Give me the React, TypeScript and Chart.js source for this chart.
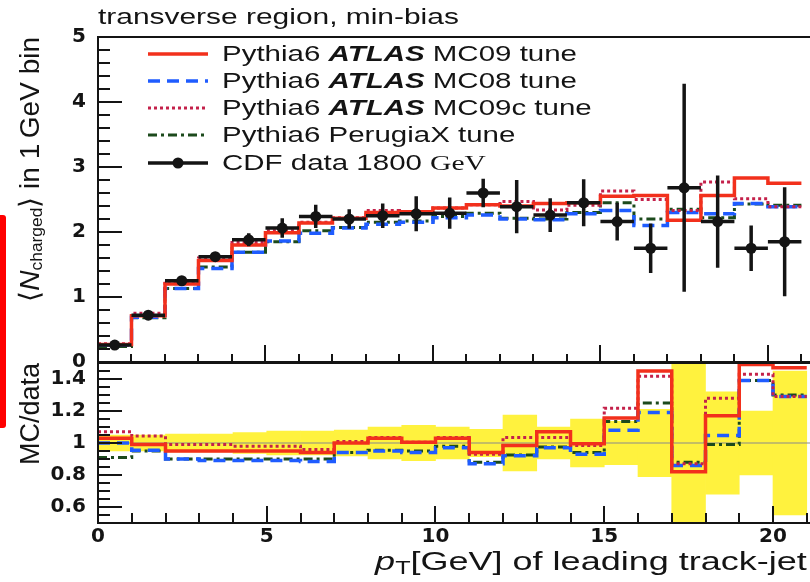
import React, { useEffect, useRef } from "react";
import { Chart, registerables } from "chart.js";

Chart.register(...registerables);

// ---------------- data ----------------
const BIN_LOW = [0, 1, 2, 3, 4, 5, 6, 7, 8, 9, 10, 11, 12, 13, 14, 15, 16, 17, 18, 19, 20];
const BIN_WIDTH = 1;

const CDF_DATA = [0.26, 0.72, 1.25, 1.62, 1.88, 2.06, 2.24, 2.2, 2.25, 2.28, 2.29, 2.6, 2.39, 2.26, 2.45, 2.16, 1.75, 2.68, 2.16, 1.75, 1.85];
const CDF_ERR = [0.03, 0.04, 0.05, 0.07, 0.1, 0.15, 0.18, 0.15, 0.19, 0.27, 0.24, 0.22, 0.41, 0.26, 0.36, 0.29, 0.38, 1.6, 0.71, 0.35, 0.84];

const MC09 = [0.27, 0.71, 1.2, 1.56, 1.8, 1.99, 2.14, 2.21, 2.3, 2.31, 2.37, 2.42, 2.4, 2.44, 2.45, 2.55, 2.56, 2.18, 2.56, 2.83, 2.75];
const MC08 = [0.26, 0.69, 1.13, 1.44, 1.69, 1.86, 1.98, 2.06, 2.12, 2.15, 2.22, 2.26, 2.2, 2.19, 2.28, 2.33, 2.1, 2.3, 2.28, 2.44, 2.39];
const MC09C = [0.28, 0.75, 1.24, 1.6, 1.84, 2.02, 2.15, 2.22, 2.33, 2.29, 2.37, 2.42, 2.47, 2.34, 2.41, 2.63, 2.5, 2.33, 2.77, 2.51, 2.39];
const PERUGIAX = [0.24, 0.68, 1.13, 1.46, 1.69, 1.85, 2.02, 2.07, 2.15, 2.17, 2.24, 2.29, 2.21, 2.2, 2.3, 2.45, 2.2, 2.35, 2.22, 2.43, 2.41];

const RATIO_MC09 = [1.03, 0.99, 0.95, 0.95, 0.95, 0.95, 0.94, 1.0, 1.03, 1.005, 1.03, 0.94, 0.985, 1.07, 0.995, 1.156, 1.45, 0.82, 1.17, 1.49, 1.47];
const RATIO_MC08 = [1.0, 0.955, 0.9, 0.89, 0.89, 0.89, 0.885, 0.94, 0.95, 0.94, 0.97, 0.87, 0.92, 0.97, 0.93, 1.08, 1.19, 0.86, 1.047, 1.39, 1.29];
const RATIO_MC09C = [1.07, 1.043, 0.99, 0.99, 0.98, 0.98, 0.96, 1.01, 1.035, 1.005, 1.035, 0.93, 1.035, 1.035, 0.985, 1.217, 1.417, 0.87, 1.28, 1.43, 1.29];
const RATIO_PERUGIAX = [0.91, 0.95, 0.9, 0.9, 0.9, 0.9, 0.9, 0.94, 0.955, 0.95, 0.98, 0.88, 0.925, 0.975, 0.94, 1.135, 1.25, 0.88, 0.99, 1.39, 1.3];
const RATIO_BAND = [0.05, 0.05, 0.055, 0.055, 0.065, 0.075, 0.075, 0.08, 0.1, 0.11, 0.1, 0.085, 0.175, 0.1, 0.15, 0.135, 0.21, 0.6, 0.32, 0.2, 0.45];
const RATIO_REF = 1;

const TOP_Y_TICKS = [0, 1, 2, 3, 4, 5];
const RATIO_Y_TICKS = [0.6, 0.8, 1, 1.2, 1.4];
const X_TICKS = [0, 5, 10, 15, 20];

const X_MIN = 0;
const X_MAX = 21.6;
const TOP_Y_MIN = 0;
const TOP_Y_MAX = 5;
const RATIO_Y_MIN = 0.5;
const RATIO_Y_MAX = 1.5;

const LEGEND_LABELS = [
  "Pythia6 ATLAS MC09 tune",
  "Pythia6 ATLAS MC08 tune",
  "Pythia6 ATLAS MC09c tune",
  "Pythia6 PerugiaX tune",
  "CDF data 1800 GeV",
];

// ---------------- styles ----------------
const INK = "#141414";
const RED = "#f2301c";
const BLUE = "#1f5cff";
const CRIMSON = "#c4214a";
const GREEN = "#1c4a1c";
const YELLOW = "#fff23e";
const SERIES_STYLE = [
  { color: RED, dash: [] as number[], width: 3.5 },
  { color: BLUE, dash: [12, 7], width: 3.5 },
  { color: CRIMSON, dash: [3, 3], width: 3 },
  { color: GREEN, dash: [9, 4, 3, 4], width: 3 },
];
const CW = 827;
const TICK_FONT = { family: '"DejaVu Sans", "Liberation Sans", sans-serif', size: 20, weight: "bold" as const };

const range = (a: number, b: number, s: number) => {
  const out: number[] = [];
  const n = Math.round((b - a) / s);
  for (let i = 0; i <= n; i++) out.push(+(a + i * s).toFixed(4));
  return out;
};

const stepPoints = (vals: number[]) => [
  ...BIN_LOW.map((lo, i) => ({ x: lo, y: vals[i] })),
  { x: BIN_LOW[BIN_LOW.length - 1] + BIN_WIDTH, y: vals[vals.length - 1] },
];

const histDataset = (label: string, vals: number[], k: number, order: number) => ({
  type: "line",
  label,
  data: stepPoints(vals),
  borderColor: SERIES_STYLE[k].color,
  borderWidth: SERIES_STYLE[k].width,
  borderDash: SERIES_STYLE[k].dash,
  stepped: "before",
  pointRadius: 0,
  fill: false,
  order,
});

const errorBarPoints = () => {
  const pts: any[] = [];
  BIN_LOW.forEach((lo, i) => {
    const c = lo + BIN_WIDTH / 2;
    pts.push({ x: lo, y: CDF_DATA[i] }, { x: lo + BIN_WIDTH, y: CDF_DATA[i] }, { x: c, y: null });
    pts.push({ x: c, y: CDF_DATA[i] - CDF_ERR[i] }, { x: c, y: CDF_DATA[i] + CDF_ERR[i] }, { x: c, y: null });
  });
  return pts;
};

function framePlugin(spec: any) {
  return {
    id: "frameTicks",
    afterDraw(chart: any) {
      const { ctx, chartArea: a } = chart;
      const xs = chart.scales.x;
      const ys = chart.scales.y;
      ctx.save();
      ctx.strokeStyle = INK;
      ctx.lineWidth = 2;
      ctx.beginPath();
      spec.yMinor.forEach((v: number) => {
        const p = Math.round(ys.getPixelForValue(v));
        ctx.moveTo(a.left, p);
        ctx.lineTo(a.left + 12, p);
      });
      spec.yMajor.forEach((v: number) => {
        const p = Math.round(ys.getPixelForValue(v));
        ctx.moveTo(a.left, p);
        ctx.lineTo(a.left + 24, p);
      });
      spec.xMinor.forEach((v: number) => {
        const p = Math.round(xs.getPixelForValue(v));
        ctx.moveTo(p, a.bottom);
        ctx.lineTo(p, a.bottom - spec.xMinorLen);
      });
      spec.xMajor.forEach((v: number) => {
        const p = Math.round(xs.getPixelForValue(v));
        ctx.moveTo(p, a.bottom);
        ctx.lineTo(p, a.bottom - 17);
      });
      ctx.stroke();
      ctx.beginPath();
      ctx.moveTo(chart.width, a.top);
      ctx.lineTo(a.left, a.top);
      ctx.lineTo(a.left, a.bottom);
      ctx.lineTo(chart.width, a.bottom);
      ctx.stroke();
      ctx.restore();
    },
  };
}

const yAxis = (min: number, max: number, ticks: number[]) => ({
  type: "linear",
  min,
  max,
  afterFit: (s: any) => {
    s.width = 98;
  },
  afterBuildTicks: (s: any) => {
    s.ticks = ticks.map((v) => ({ value: v }));
  },
  grid: { display: false, drawTicks: false },
  border: { display: false },
  ticks: { padding: 12, font: TICK_FONT, color: INK, callback: (v: any) => String(v) },
});

function topConfig(): any {
  return {
    type: "line",
    data: {
      datasets: [
        {
          type: "line",
          label: "CDF data 1800 GeV",
          data: BIN_LOW.map((lo, i) => ({ x: lo + BIN_WIDTH / 2, y: CDF_DATA[i] })),
          showLine: false,
          pointRadius: 5.5,
          pointBackgroundColor: INK,
          pointBorderWidth: 0,
          order: 0,
        },
        {
          type: "line",
          label: "CDF errors",
          data: errorBarPoints(),
          borderColor: INK,
          borderWidth: 3.5,
          pointRadius: 0,
          spanGaps: false,
          order: 1,
        },
        histDataset("MC09", MC09, 0, 2),
        histDataset("MC09c", MC09C, 2, 3),
        histDataset("MC08", MC08, 1, 4),
        histDataset("PerugiaX", PERUGIAX, 3, 5),
      ],
    },
    options: {
      responsive: false,
      animation: false,
      events: [],
      layout: { padding: { top: 37, bottom: 28, left: 0, right: 0 } },
      plugins: { legend: { display: false }, tooltip: { enabled: false } },
      scales: {
        x: { type: "linear", min: X_MIN, max: X_MAX, display: false, offset: false },
        y: yAxis(TOP_Y_MIN, TOP_Y_MAX, TOP_Y_TICKS),
      },
    },
    plugins: [
      framePlugin({
        yMajor: TOP_Y_TICKS,
        yMinor: range(TOP_Y_MIN, TOP_Y_MAX, 0.2),
        xMajor: X_TICKS,
        xMinor: range(0, 21, 1),
        xMinorLen: 8,
      }),
    ],
  };
}

function ratioConfig(): any {
  return {
    type: "line",
    data: {
      datasets: [
        histDataset("MC09", RATIO_MC09, 0, 1),
        histDataset("MC09c", RATIO_MC09C, 2, 2),
        histDataset("MC08", RATIO_MC08, 1, 3),
        histDataset("PerugiaX", RATIO_PERUGIAX, 3, 4),
        {
          type: "line",
          label: "ref",
          data: [
            { x: X_MIN, y: RATIO_REF },
            { x: X_MAX, y: RATIO_REF },
          ],
          borderColor: "#8a8a8a",
          borderWidth: 1,
          pointRadius: 0,
          order: 5,
        },
        {
          type: "bar",
          label: "data uncertainty",
          data: BIN_LOW.map((lo, i) => ({
            x: lo + BIN_WIDTH / 2,
            y: [RATIO_REF - RATIO_BAND[i], RATIO_REF + RATIO_BAND[i]],
          })),
          backgroundColor: YELLOW,
          borderWidth: 0,
          barPercentage: 1,
          categoryPercentage: 1,
          grouped: false,
          order: 6,
        },
      ],
    },
    options: {
      responsive: false,
      animation: false,
      events: [],
      layout: { padding: { top: 33, bottom: 0, left: 0, right: 0 } },
      plugins: { legend: { display: false }, tooltip: { enabled: false } },
      scales: {
        x: {
          type: "linear",
          min: X_MIN,
          max: X_MAX,
          offset: false,
          afterFit: (s: any) => {
            s.height = 59;
          },
          afterBuildTicks: (s: any) => {
            s.ticks = X_TICKS.map((v) => ({ value: v }));
          },
          grid: { display: false, drawTicks: false, offset: false },
          border: { display: false },
          ticks: { padding: 2, font: TICK_FONT, color: INK, maxRotation: 0, callback: (v: any) => String(v) },
        },
        y: yAxis(RATIO_Y_MIN, RATIO_Y_MAX, RATIO_Y_TICKS),
      },
    },
    plugins: [
      framePlugin({
        yMajor: RATIO_Y_TICKS,
        yMinor: range(RATIO_Y_MIN, RATIO_Y_MAX, 0.05),
        xMajor: X_TICKS,
        xMinor: range(0, 21, 1),
        xMinorLen: 10,
      }),
    ],
  };
}

function LegendLabel({ text }: { text: string }) {
  if (text.includes("ATLAS")) {
    const [a, b] = text.split("ATLAS");
    return (
      <>
        {a}
        <b>
          <i>ATLAS</i>
        </b>
        {b}
      </>
    );
  }
  if (text.endsWith(" GeV")) {
    return (
      <>
        {text.slice(0, -3)}
        <span style={{ fontFamily: '"Liberation Serif", serif' }}>GeV</span>
      </>
    );
  }
  return <>{text}</>;
}

function Sample({ k }: { k: number }) {
  if (k === 4) {
    return (
      <svg width={60} height={28} style={{ position: "absolute", left: 0, top: 0 }}>
        <line x1={0} y1={14} x2={60} y2={14} stroke={INK} strokeWidth={3.5} />
        <circle cx={30} cy={14} r={5.5} fill={INK} />
      </svg>
    );
  }
  const s = SERIES_STYLE[k];
  return (
    <svg width={60} height={28} style={{ position: "absolute", left: 0, top: 0 }}>
      <line x1={0} y1={14} x2={60} y2={14} stroke={s.color} strokeWidth={s.width} strokeDasharray={s.dash.join(" ")} />
    </svg>
  );
}

export default function App() {
  const topRef = useRef<HTMLCanvasElement>(null);
  const botRef = useRef<HTMLCanvasElement>(null);

  useEffect(() => {
    const c1 = new Chart(topRef.current as HTMLCanvasElement, topConfig());
    const c2 = new Chart(botRef.current as HTMLCanvasElement, ratioConfig());
    return () => {
      c1.destroy();
      c2.destroy();
    };
  }, []);

  const legendCenters = [53.5, 80.8, 108.1, 135.4, 162.7];

  return (
    <div
      style={{
        position: "absolute",
        left: 0,
        top: 0,
        width: 810,
        height: 582,
        overflow: "hidden",
        background: "#fff",
        color: INK,
        fontFamily: '"Liberation Sans", Arial, sans-serif',
      }}
    >
      <canvas ref={topRef} width={CW} height={390} style={{ position: "absolute", left: 0, top: 0 }} />
      <canvas ref={botRef} width={CW} height={252} style={{ position: "absolute", left: 0, top: 330 }} />

      {/* header */}
      <div
        style={{
          position: "absolute",
          left: 98,
          top: 6,
          fontSize: 22,
          lineHeight: "22px",
          whiteSpace: "nowrap",
          transform: "scaleX(1.36)",
          transformOrigin: "0 0",
        }}
      >
        transverse region, min-bias
      </div>

      {/* legend */}
      {LEGEND_LABELS.map((t, k) => (
        <div key={t} style={{ position: "absolute", left: 148, top: legendCenters[k] - 14, height: 28, width: 500 }}>
          <Sample k={k} />
          <div
            style={{
              position: "absolute",
              left: 74,
              top: 0,
              fontSize: 22,
              lineHeight: "28px",
              whiteSpace: "nowrap",
              transform: "scaleX(1.34)",
              transformOrigin: "0 50%",
            }}
          >
            <LegendLabel text={t} />
          </div>
        </div>
      ))}

      {/* y titles */}
      <div
        style={{
          position: "absolute",
          left: 14,
          top: 317,
          width: 280,
          textAlign: "right",
          fontSize: 28,
          lineHeight: "32px",
          whiteSpace: "nowrap",
          transform: "rotate(-90deg)",
          transformOrigin: "0 0",
        }}
      >
        {"\u27E8"}
        <i>N</i>
        <span style={{ fontSize: "0.62em", verticalAlign: "-0.2em", lineHeight: 0 }}>charged</span>
        {"\u27E9 in 1\u2009GeV bin"}
      </div>
      <div
        style={{
          position: "absolute",
          left: 14,
          top: 465,
          fontSize: 27,
          lineHeight: "32px",
          whiteSpace: "nowrap",
          transform: "rotate(-90deg)",
          transformOrigin: "0 0",
        }}
      >
        MC/data
      </div>

      {/* x title */}
      <div
        style={{
          position: "absolute",
          right: 3,
          top: 549,
          fontSize: 25,
          lineHeight: "25px",
          whiteSpace: "nowrap",
          transform: "scaleX(1.44)",
          transformOrigin: "100% 50%",
        }}
      >
        <i>p</i>
        <span style={{ fontSize: "0.7em", verticalAlign: "-0.2em", lineHeight: 0 }}>T</span>
        [GeV] of leading track-jet
      </div>

      {/* red marker bar on the left edge */}
      <div
        style={{
          position: "absolute",
          left: 0,
          top: 215,
          width: 6,
          height: 213,
          background: "#ff0000",
          borderRadius: "0 3px 3px 0",
        }}
      />
    </div>
  );
}
